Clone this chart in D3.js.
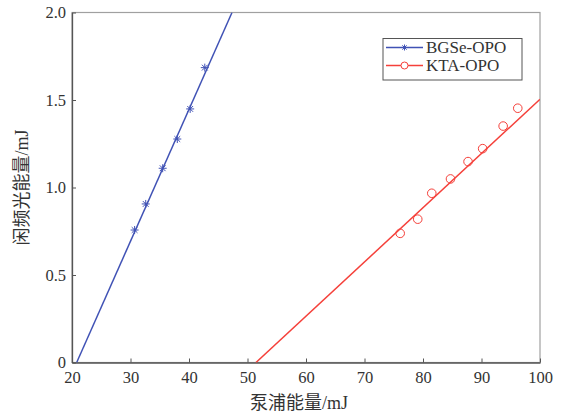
<!DOCTYPE html>
<html>
<head>
<meta charset="utf-8">
<script src="https://cdn.jsdelivr.net/npm/d3@7"></script>
<style>
body { margin: 0; background: #fff; }
</style>
</head>
<body>
<div id="chart"></div>
<script>
var W = 567, H = 415,
	margin = { top: 12.5, right: 27, bottom: 52.5, left: 72 },
	width = W - margin.left - margin.right,
	height = H - margin.top - margin.bottom,
	font = "'Liberation Serif', 'Noto Sans CJK SC', serif";

// measured points
var bgseX = [30.7, 32.6, 35.5, 38.0, 40.2, 42.7],
	bgseY = [0.757, 0.906, 1.110, 1.277, 1.449, 1.685];
var ktaX = [76.1, 79.1, 81.5, 84.7, 87.7, 90.2, 93.7, 96.2],
	ktaY = [0.738, 0.819, 0.967, 1.049, 1.148, 1.222, 1.351, 1.453];
// fitted lines (end points)
var bgseFit = [[20.8, 0], [47.35, 2.0]],
	ktaFit = [[51.45, 0], [100, 1.504]];

var xTicks = [20, 30, 40, 50, 60, 70, 80, 90, 100],
	yTicks = [0, 0.5, 1.0, 1.5, 2.0];
var seriesNames = ["BGSe-OPO", "KTA-OPO"];
var blue = "#4052b5", red = "#f5403a";

var svg = d3.select("#chart").append("svg")
	.attr("width", W).attr("height", H)
	.style("font-family", font);
var g = svg.append("g")
	.attr("transform", "translate(" + margin.left + "," + margin.top + ")");

var x = d3.scaleLinear().domain([20, 100]).range([0, width]);
var y = d3.scaleLinear().domain([0, 2]).range([height, 0]);

// frame
g.append("rect").attr("width", width).attr("height", height)
	.attr("fill", "none").attr("stroke", "#a0a0a0").attr("stroke-width", 1.2);

var xAxis = g.append("g").attr("transform", "translate(0," + height + ")")
	.call(d3.axisBottom(x).tickValues(xTicks).tickSizeInner(-4).tickSizeOuter(0).tickPadding(9));
var yAxis = g.append("g")
	.call(d3.axisLeft(y).tickValues(yTicks).tickSizeInner(-4).tickSizeOuter(0).tickPadding(6)
		.tickFormat(function(d) { return d === 0 ? "0" : d3.format(".1f")(d); }));
[xAxis, yAxis].forEach(function(a) {
	a.attr("font-family", null);
	a.select(".domain").attr("stroke", "#555").attr("stroke-width", 1.3);
	a.selectAll(".tick line").attr("stroke", "#555");
	a.selectAll("text").style("font-size", "16.5px").style("font-family", font).attr("fill", "#333");
});

// titles
svg.append("text").attr("x", 299).attr("y", 409).attr("text-anchor", "middle")
	.style("font-size", "18px").attr("fill", "#333").text("泵浦能量/mJ");
svg.append("text").attr("transform", "translate(28," + (margin.top + height / 2) + ") rotate(-90)")
	.attr("text-anchor", "middle").style("font-size", "18px").attr("fill", "#333").text("闲频光能量/mJ");

svg.append("clipPath").attr("id", "clip").append("rect")
	.attr("width", width).attr("height", height);
var plot = g.append("g").attr("clip-path", "url(#clip)");

var line = d3.line().x(function(d) { return x(d[0]); }).y(function(d) { return y(d[1]); });
plot.append("path").datum(bgseFit).attr("d", line)
	.attr("fill", "none").attr("stroke", blue).attr("stroke-width", 1.5);
plot.append("path").datum(ktaFit).attr("d", line)
	.attr("fill", "none").attr("stroke", red).attr("stroke-width", 1.5);

function star(sel, cx, cy, r) {
	var s = sel.append("g").attr("transform", "translate(" + cx + "," + cy + ")")
		.attr("stroke", blue).attr("stroke-width", 1).attr("fill", "none");
	var d = r * 0.72;
	s.append("path").attr("d", "M" + (-r) + ",0H" + r + "M0," + (-r) + "V" + r +
		"M" + (-d) + "," + (-d) + "L" + d + "," + d + "M" + (-d) + "," + d + "L" + d + "," + (-d));
}

bgseX.forEach(function(v, i) { star(g, x(v), y(bgseY[i]), 4); });
g.selectAll(".kta").data(ktaX).enter().append("circle")
	.attr("class", "kta")
	.attr("cx", function(d) { return x(d); })
	.attr("cy", function(d, i) { return y(ktaY[i]); })
	.attr("r", 4.3).attr("fill", "none").attr("stroke", red).attr("stroke-width", 1);

// legend
var lg = svg.append("g").attr("transform", "translate(383,38.5)");
lg.append("rect").attr("width", 139).attr("height", 41.5)
	.attr("fill", "#fff").attr("stroke", "#555").attr("stroke-width", 1);
seriesNames.forEach(function(name, i) {
	var ly = 9 + i * 18, c = i === 0 ? blue : red;
	lg.append("line").attr("x1", 3).attr("x2", 40).attr("y1", ly).attr("y2", ly)
		.attr("stroke", c).attr("stroke-width", 1.5);
	if (i === 0) star(lg, 21.5, ly, 3);
	else lg.append("circle").attr("cx", 21.5).attr("cy", ly).attr("r", 3.5)
		.attr("fill", "#fff").attr("stroke", c).attr("stroke-width", 1);
	lg.append("text").attr("x", 43).attr("y", ly + 5.5).style("font-size", "17px")
		.attr("fill", "#333").text(name);
});
</script>
</body>
</html>
